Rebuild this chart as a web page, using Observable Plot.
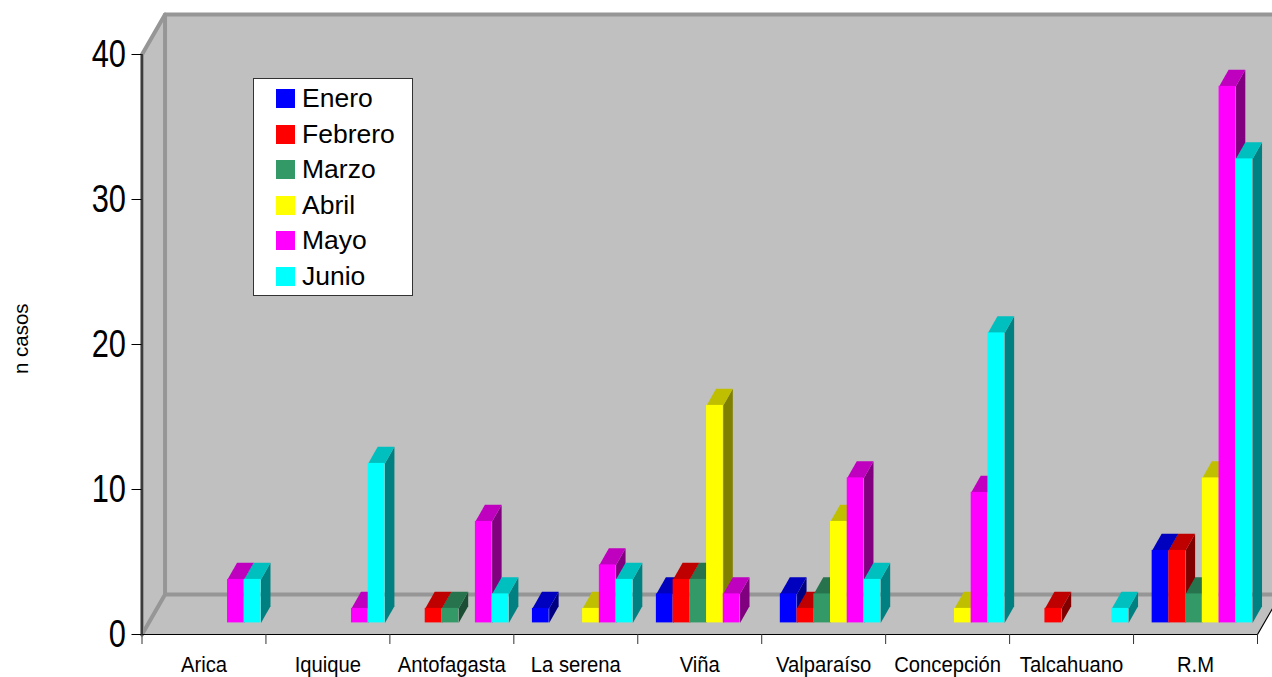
<!DOCTYPE html>
<html>
<head>
<meta charset="utf-8">
<script src="https://cdn.jsdelivr.net/npm/d3@7"></script>
<script src="https://cdn.jsdelivr.net/npm/@observablehq/plot@0.6"></script>
<style>
html,body{margin:0;padding:0;background:#fff;overflow:hidden}
#wrap{position:relative;width:1272px;height:677px;overflow:hidden}
#legend{position:absolute;left:253px;top:78px;width:158px;height:216px;background:#fff;border:1px solid #333;font:26.5px "Liberation Sans",Arial,sans-serif;color:#000}
#legend .row{position:absolute;left:22px;height:20px;line-height:20px;white-space:nowrap}
#legend .sw{display:inline-block;width:19px;height:19px;vertical-align:top;margin-right:7px}
</style>
</head>
<body>
<div id="wrap"></div>
<script>
const categories = ["Arica","Iquique","Antofagasta","La serena","Viña","Valparaíso","Concepción","Talcahuano","R.M"];
const months = ["Enero","Febrero","Marzo","Abril","Mayo","Junio"];
const monthColors = ["#0000ff","#ff0000","#339966","#ffff00","#ff00ff","#00ffff"];
const enero   = [0,0,0,1,2,2,0,0,5];
const febrero = [0,0,1,0,3,1,0,1,5];
const marzo   = [0,0,1,0,3,2,0,0,2];
const abril   = [0,0,0,1,15,7,1,0,10];
const mayo    = [3,1,7,4,2,10,9,0,37];
const junio   = [3,11,2,3,0,3,20,1,32];
const series = [enero,febrero,marzo,abril,mayo,junio];
const yTicks = [0,10,20,30,40];
const yTitle = "n casos";

// Geometry in data units
const groupStart = 0.15, barW = 0.135, barDx = 0.0766, barDy = 1.14, floorY = 0.8;
const wallDx = 0.186, wallDy = 2.76;

const bars = [];
categories.forEach((c, ci) => series.forEach((s, mi) => {
  if (s[ci] > 0) bars.push({ci, mi, v: s[ci], x1: ci + groupStart + mi * barW, x2: ci + groupStart + (mi + 1) * barW, color: monthColors[mi]});
}));
const shade = (col, k) => { const c = d3.rgb(col); return d3.rgb(c.r * k, c.g * k, c.b * k).formatHex(); };
const faces = [];
bars.forEach((b, i) => {
  const t = floorY + b.v, add = (id, col, pts) => pts.forEach(([x, y]) => faces.push({id: i + id, col, x, y}));
  add("s", shade(b.color, 0.5), [[b.x2, floorY], [b.x2, t], [b.x2 + barDx, t + barDy], [b.x2 + barDx, floorY + barDy]]);
  add("t", shade(b.color, 0.75), [[b.x1, t], [b.x2, t], [b.x2 + barDx, t + barDy], [b.x1 + barDx, t + barDy]]);
});
const xMax = categories.length;
const wall = [[0,0],[0,40],[wallDx,40 + wallDy],[xMax + wallDx,40 + wallDy],[xMax + wallDx,wallDy],[xMax,0]];
const grayLines = [
  [[0,0],[0,40],[wallDx,40 + wallDy],[xMax + wallDx,40 + wallDy]],
  [[0,0],[wallDx,wallDy],[xMax + wallDx,wallDy]],
  [[wallDx,wallDy],[wallDx,40 + wallDy]]
].flatMap((l, i) => l.map(([x, y]) => ({x, y, i})));

const chart = Plot.plot({
  width: 1272, height: 677,
  marginLeft: 141.5, marginRight: 15, marginTop: 54, marginBottom: 43,
  style: {background: "#fff", fontFamily: "'Liberation Sans',Arial,sans-serif", color: "#000", overflow: "hidden"},
  x: {domain: [0, xMax], axis: null},
  y: {domain: [0, 40], axis: null},
  marks: [
    Plot.line(wall, {x: d => d[0], y: d => d[1], fill: "#c0c0c0", stroke: "none", curve: "linear-closed"}),
    Plot.line(grayLines, {x: "x", y: "y", z: "i", stroke: "#969696", strokeWidth: 4}),
    Plot.line(faces, {x: "x", y: "y", z: "id", fill: "col", stroke: "none", curve: "linear-closed"}),
    Plot.rect(bars, {x1: "x1", x2: "x2", y1: floorY, y2: d => floorY + d.v, fill: "color", inset: 0}),
    Plot.ruleX([0], {y1: 0, y2: 40, stroke: "#000", strokeWidth: 1.2}),
    Plot.ruleY([0], {x1: 0, x2: xMax, stroke: "#000", strokeWidth: 1.2}),
    Plot.line([[xMax, 0], [xMax + wallDx, wallDy]], {x: d => d[0], y: d => d[1], stroke: "#000", strokeWidth: 1.2}),
    Plot.axisY({anchor: "left", ticks: yTicks, tickSize: 10, tickPadding: 6, fontSize: 39, label: null, stroke: "#000", tickFormat: d => String(d)}),
    Plot.axisX({anchor: "bottom", ticks: d3.range(0, xMax + 1), tickSize: 10, tickFormat: () => "", label: null, stroke: "#333"}),
    Plot.axisX({anchor: "bottom", ticks: categories.map((c, i) => i + 0.5), tickSize: 0, tickPadding: 21.5, fontSize: 22,
      tickFormat: d => categories[Math.floor(d)], label: null}),
    Plot.text([yTitle], {frameAnchor: "left", dx: -120.5, y: 20.4, rotate: -90, textAnchor: "middle", fontSize: 20.5, fill: "#000"})
  ]
});
document.getElementById("wrap").appendChild(chart);

// condense glyphs the way the original narrow type does
function condense(sel, k) {
  chart.querySelectorAll(sel).forEach(t => {
    t.setAttribute("textLength", t.getComputedTextLength() * k);
    t.setAttribute("lengthAdjust", "spacingAndGlyphs");
  });
}
condense('g[aria-label="y-axis tick label"] text', 0.79);
condense('g[aria-label="x-axis tick label"] text', 0.92);

const legend = document.createElement("div");
legend.id = "legend";
months.forEach((m, i) => {
  const r = document.createElement("div");
  r.className = "row";
  r.style.top = (9 + i * 35.6) + "px";
  const s = document.createElement("span");
  s.className = "sw";
  s.style.background = monthColors[i];
  s.style.marginTop = "1px";
  r.appendChild(s);
  r.appendChild(document.createTextNode(m));
  legend.appendChild(r);
});
document.getElementById("wrap").appendChild(legend);
</script>
</body>
</html>
